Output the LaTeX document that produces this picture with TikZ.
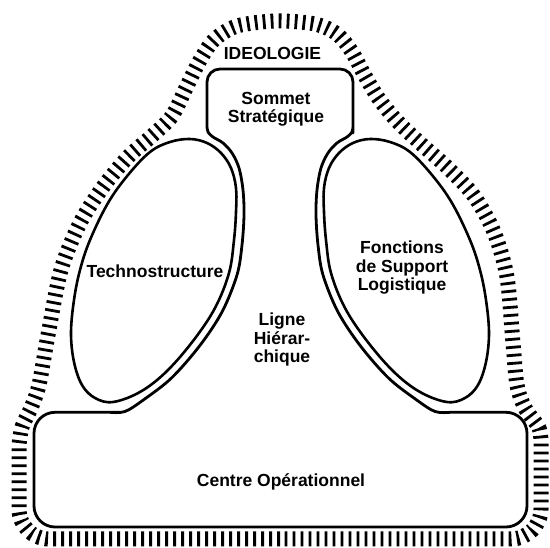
\documentclass[tikz,border=0pt]{standalone}
\usepackage{fontspec}
\setmainfont{Liberation Sans}
\begin{document}
\begin{tikzpicture}[x=1pt,y=-1pt,
  outl/.style={line width=2.8pt, line join=round, line cap=round},
  oval/.style={line width=2.6pt},
  band/.style={line width=15pt, dash pattern=on 2.8pt off 5.2pt},
  lbl/.style={font=\fontsize{17.5}{18.5}\selectfont\bfseries, align=center, inner sep=0pt}]
\useasboundingbox (0,0) rectangle (550,548);

% hatched ideology band
\draw[band] (280,539) -- (49,539) arc[start angle=270, end angle=180, radius=30pt] -- (19,452)
  -- plot[smooth, tension=0.5] coordinates {(19,445) (22,427) (31,408) (39,385) (48,335) (61,270) (80,223) (103,187) (128,157) (153,135) (172,116) (186,88) (199,62) (214,40) (237,26) (276,21) (315,24) (337,34) (352,52) (365,76) (379,99) (397,121) (420,143) (448,168) (474,196) (494,232) (507,277) (513,343) (517,385) (525,408) (539,428) (541,445)}
  -- (541,509) arc[start angle=0, end angle=-90, radius=30pt] -- (280,539);

% outline: sommet, ligne hierarchique, centre operationnel
\draw[outl] (207,120) [rounded corners=13pt] -- (207,69) -- (353,69) -- (353,120) [sharp corners]
  -- plot[smooth, tension=0.55] coordinates {(353,126) (352,132) (347,137) (337,143) (328,153) (321,168) (317,190) (316,215) (318,245) (323,275) (338,312) (360.5,346) (388.5,378) (416,399.5) (435,411.5) (450,412.3)}
  -- (460,412.3) [rounded corners=21pt] -- (527,412.3) -- (527,527) -- (34,527) -- (34,412.3) -- (100,412.3) [sharp corners]
  -- plot[smooth, tension=0.55] coordinates {(110,412.3) (125,411.5) (144,399.5) (171.5,378) (199.5,346) (222,312) (237,275) (242,245) (244,215) (243,190) (239,168) (232,153) (223,143) (213,137) (208,132) (207,126)} -- cycle;

% technostructure
\draw[oval] plot[smooth cycle, tension=0.6] coordinates {(190,139) (207,143) (221,153) (231,168) (236,188) (236,212) (234,240) (229,273) (215,308) (193,341) (166,372) (140,392) (113,402) (95,398) (82,385) (74,362) (71,333) (74,300) (80,270) (90,240) (108,203) (128,175) (150,152) (170,142)};
% support logistique
\draw[oval] plot[smooth cycle, tension=0.6] coordinates {(370,139) (390,142) (410,152) (432,175) (452,203) (470,240) (480,270) (486,300) (489,333) (486,362) (478,385) (465,398) (447,402) (420,392) (394,372) (367,341) (345,308) (331,273) (326,240) (324,212) (324,188) (329,168) (339,153) (353,143)};

\node[lbl, anchor=base] (ideo) at (272.5,60) {IDEOLOGIE};
\node[lbl, anchor=base] (sommet) at (276,123) {Sommet\\Stratégique};
\node[lbl, anchor=base] (techno) at (155,278) {Technostructure};
\node[lbl, anchor=base] (support) at (402,291) {Fonctions\\de Support\\Logistique};
\node[lbl, anchor=base] (ligne) at (282,363) {Ligne\\Hiérar-\\chique};
\node[lbl, anchor=base] (centre) at (281,487) {Centre Opérationnel};
\end{tikzpicture}
\end{document}
